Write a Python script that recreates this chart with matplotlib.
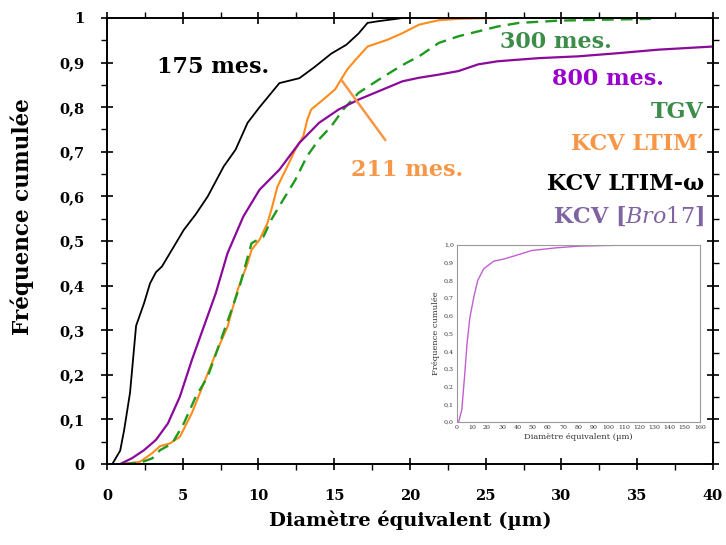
import matplotlib
matplotlib.use("Agg")
import matplotlib.pyplot as plt
from matplotlib.ticker import MultipleLocator, FuncFormatter

plt.rcParams['font.family'] = ['DejaVu Serif']
plt.rcParams['mathtext.fontset'] = 'custom'
plt.rcParams['mathtext.it'] = 'DejaVu Serif:italic'
plt.rcParams['mathtext.rm'] = 'DejaVu Serif'

# KCV LTIM-omega (175 mes.)
black_x = [0.35, 0.87, 1.13, 1.52, 1.92, 2.44, 2.84, 3.23, 3.63, 4.28, 5.07, 5.86, 6.65, 7.7, 8.49, 9.28,
           10.07, 11.38, 12.7, 13.7, 14.8, 15.8, 16.6, 17.2, 17.95, 19.1, 19.5]
black_y = [0.0, 0.03, 0.076, 0.16, 0.31, 0.36, 0.405, 0.43, 0.443, 0.48, 0.525, 0.56, 0.60, 0.667, 0.705, 0.765,
           0.80, 0.854, 0.865, 0.89, 0.92, 0.94, 0.965, 0.989, 0.993, 0.998, 1.0]

# KCV LTIM' (211 mes.)
orange_x = [1.0, 2.18, 2.97, 3.5, 4.15, 4.81, 5.6, 6.39, 7.18, 7.96, 8.62, 9.28, 9.54, 10.07, 10.59, 10.85,
            11.25, 11.9, 12.43, 12.96, 13.22, 13.48, 14.27, 15.06, 15.45, 15.85, 16.4, 17.2, 18.5, 19.5,
            20.6, 21.9, 23.2, 25.8]
orange_y = [0.0, 0.005, 0.024, 0.04, 0.046, 0.061, 0.114, 0.181, 0.248, 0.308, 0.39, 0.45, 0.48, 0.503, 0.54, 0.57,
            0.622, 0.667, 0.705, 0.735, 0.772, 0.795, 0.817, 0.84, 0.862, 0.884, 0.906, 0.936, 0.951, 0.966,
            0.985, 0.995, 0.998, 1.0]

# TGV (300 mes.)
green_x = [1.13, 2.2, 3.0, 3.5, 4.3, 5.07, 5.86, 6.65, 7.44, 8.23, 8.75, 9.54, 10.33, 10.85, 11.64, 12.43,
           13.2, 14.0, 14.8, 15.6, 16.6, 17.95, 19.0, 19.8, 20.6, 21.9, 23.2, 24.5, 25.8, 27.2, 29.8, 32.4, 35.9]
green_y = [0.0, 0.003, 0.013, 0.031, 0.046, 0.091, 0.151, 0.196, 0.271, 0.346, 0.398, 0.495, 0.51, 0.548, 0.593, 0.637,
           0.69, 0.728, 0.757, 0.795, 0.832, 0.862, 0.884, 0.90, 0.914, 0.944, 0.959, 0.97, 0.981, 0.989, 0.994, 0.996, 0.998]

# KCV [Bro17] (800 mes.)
purple_x = [0.87, 1.65, 2.44, 3.23, 4.02, 4.81, 5.6, 6.39, 7.18, 7.96, 9.0, 10.07, 11.38, 12.7, 14.0, 15.3,
            16.6, 17.95, 19.5, 20.6, 21.9, 23.2, 24.5, 25.8, 28.5, 31.1, 33.7, 36.4, 40.0]
purple_y = [0.0, 0.013, 0.031, 0.054, 0.091, 0.151, 0.233, 0.308, 0.383, 0.473, 0.555, 0.615, 0.66, 0.72, 0.765, 0.795,
            0.817, 0.836, 0.858, 0.866, 0.873, 0.881, 0.896, 0.903, 0.91, 0.914, 0.921, 0.929, 0.936]

# inset curve
inset_x = [1.3, 3.4, 5.2, 6.8, 8.7, 11.3, 13.9, 17.8, 24.4, 31.0, 38.8, 49.3, 65.0, 80.8, 107.0, 147.8]
inset_y = [0.0, 0.07, 0.257, 0.44, 0.59, 0.706, 0.80, 0.865, 0.908, 0.92, 0.94, 0.968, 0.983, 0.993, 0.998, 1.0]

legend_labels = ['TGV', 'KCV LTIM\u2032', 'KCV LTIM-\u03c9', r'KCV [$\mathit{Bro17}$]']
count_labels = ['175 mes.', '211 mes.', '300 mes.', '800 mes.']

fig = plt.figure(figsize=(7.26, 5.45), dpi=100)
ax = fig.add_axes([0.1474, 0.1486, 0.8346, 0.8184])

ax.plot(black_x, black_y, color='black', lw=1.3)
ax.plot(orange_x, orange_y, color='#ff8c1a', lw=1.5)
ax.plot(green_x, green_y, color='#1e9a1e', lw=1.7, dashes=(5, 3))
ax.plot(purple_x, purple_y, color='#8a0a9a', lw=1.6)

ax.set_xlim(0, 40)
ax.set_ylim(0, 1)
ax.xaxis.set_major_locator(MultipleLocator(5))
ax.xaxis.set_minor_locator(MultipleLocator(2.5))
ax.yaxis.set_major_locator(MultipleLocator(0.1))
ax.yaxis.set_minor_locator(MultipleLocator(0.05))

def yfmt(v, pos):
    if abs(v) < 1e-9:
        return '0'
    if abs(v - 1) < 1e-9:
        return '1'
    return ('%.1f' % v).replace('.', ',')

ax.yaxis.set_major_formatter(FuncFormatter(yfmt))
ax.tick_params(which='major', direction='inout', length=8, width=1.2, top=True, right=True,
               labelsize=10.5)
ax.tick_params(axis='x', which='major', pad=14)
ax.tick_params(axis='y', which='major', pad=12)
ax.tick_params(which='minor', direction='out', length=4, width=1.0, top=True, right=True)
for lab in ax.get_xticklabels() + ax.get_yticklabels():
    lab.set_fontweight('bold')
for s in ax.spines.values():
    s.set_linewidth(1.4)

ax.set_xlabel('Diamètre équivalent (µm)', fontsize=14, fontweight='bold')
ax.xaxis.set_label_coords(0.5, -0.105)
ax.set_ylabel('Fréquence cumulée', fontsize=15.5, fontweight='bold')
ax.yaxis.set_label_coords(-0.12, 0.554)

ax.text(7.0, 0.89, count_labels[0], color='black', fontsize=16, fontweight='bold', ha='center', va='center')
ax.text(29.6, 0.946, count_labels[2], color='#3c8c4a', fontsize=16, fontweight='bold', ha='center', va='center')
ax.text(33.1, 0.863, count_labels[3], color='#9a00cc', fontsize=16, fontweight='bold', ha='center', va='center')
ax.annotate(count_labels[1], xy=(15.45, 0.862), xytext=(19.8, 0.66), color='#f79646', fontsize=16,
            fontweight='bold', ha='center', va='center',
            arrowprops=dict(arrowstyle='-', color='#f79646', lw=1.8, shrinkA=14, shrinkB=0))

leg_colors = ['#3c8c4a', '#f79646', 'black', '#8064a2']
leg_y = [0.789, 0.717, 0.628, 0.556]
for lab, c, yy in zip(legend_labels, leg_colors, leg_y):
    ax.text(39.4, yy, lab, color=c, fontsize=16, fontweight='bold', ha='right', va='center')

# inset
ins = fig.add_axes([0.629, 0.2257, 0.335, 0.325])
ins.plot(inset_x, inset_y, color='#c060d0', lw=1.0)
ins.set_xlim(0, 160)
ins.set_ylim(0, 1.0)
ins.xaxis.set_major_locator(MultipleLocator(10))
ins.yaxis.set_major_locator(MultipleLocator(0.1))
ins.yaxis.set_major_formatter(FuncFormatter(lambda v, p: ('%.1f' % v).replace('.', ',')))
ins.tick_params(labelsize=4.5, length=0, pad=2, colors='#333333')
for s in ins.spines.values():
    s.set_color('#999999')
    s.set_linewidth(0.8)
ins.set_xlabel('Diamètre équivalent (µm)', fontsize=6, labelpad=2, color='#333333')
ins.set_ylabel('Fréquence cumulée', fontsize=6, labelpad=3, color='#333333')

fig.savefig('out.png', dpi=100)
